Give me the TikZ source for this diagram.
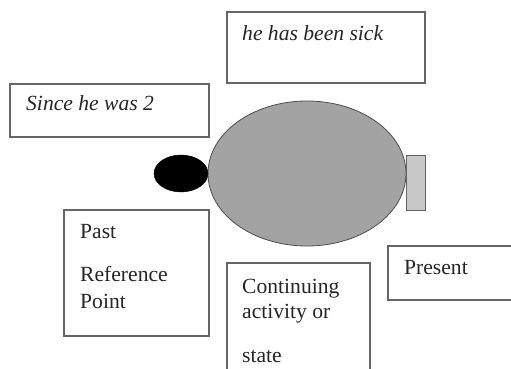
\documentclass[tikz,border=0pt]{standalone}
\usepackage{fontspec}
\setmainfont{Liberation Serif}
\usetikzlibrary{shapes.geometric}
\begin{document}
\begin{tikzpicture}[x=1pt,y=-1pt,
  box/.style={draw=black!60, line width=1.2pt, fill=white, inner sep=0pt},
  lbl/.style={anchor=base west, inner sep=0pt, text=black!85,
    font=\fontsize{21.6}{27}\selectfont},
  ilbl/.style={lbl, font=\fontsize{21.6}{27}\selectfont\itshape}]
  \clip (0,0) rectangle (511,368);
  \fill[white] (0,0) rectangle (511,368);

  % text boxes
  \node[box, minimum width=198pt, minimum height=71pt] (sickbox) at (326,47.5) {};
  \node[box, minimum width=199pt, minimum height=53pt] (sincebox) at (109.5,110.5) {};
  \node[box, minimum width=145pt, minimum height=126pt] (pastbox) at (136.5,273) {};
  \node[box, minimum width=143pt, minimum height=120pt] (contbox) at (298.5,323) {};
  \node[box, minimum width=140pt, minimum height=54pt] (presbox) at (458,273) {};

  % time line shapes
  \node[draw=black!70, line width=0.8pt, fill=black!36, ellipse, inner sep=0pt,
        minimum width=198pt, minimum height=145pt] (period) at (307,173.5) {};
  \node[draw=black, fill=black, ellipse, inner sep=0pt,
        minimum width=54pt, minimum height=37pt] (start) at (181,173.5) {};
  \node[draw=black!60, line width=1pt, fill=black!22, inner sep=0pt,
        minimum width=19pt, minimum height=55pt] (now) at (415.5,182.5) {};

  % labels
  \node[ilbl] (sick) at (242,40) {he has been sick};
  \node[ilbl] (since) at (26,110) {Since he was 2};
  \node[lbl] (past) at (80,238) {Past};
  \node[lbl] (ref) at (80,281) {Reference};
  \node[lbl] (point) at (80,308) {Point};
  \node[lbl] (cont) at (242,293) {Continuing};
  \node[lbl] (act) at (242,318) {activity or};
  \node[lbl] (state) at (242,362) {state};
  \node[lbl] (present) at (404,274) {Present};
\end{tikzpicture}
\end{document}
